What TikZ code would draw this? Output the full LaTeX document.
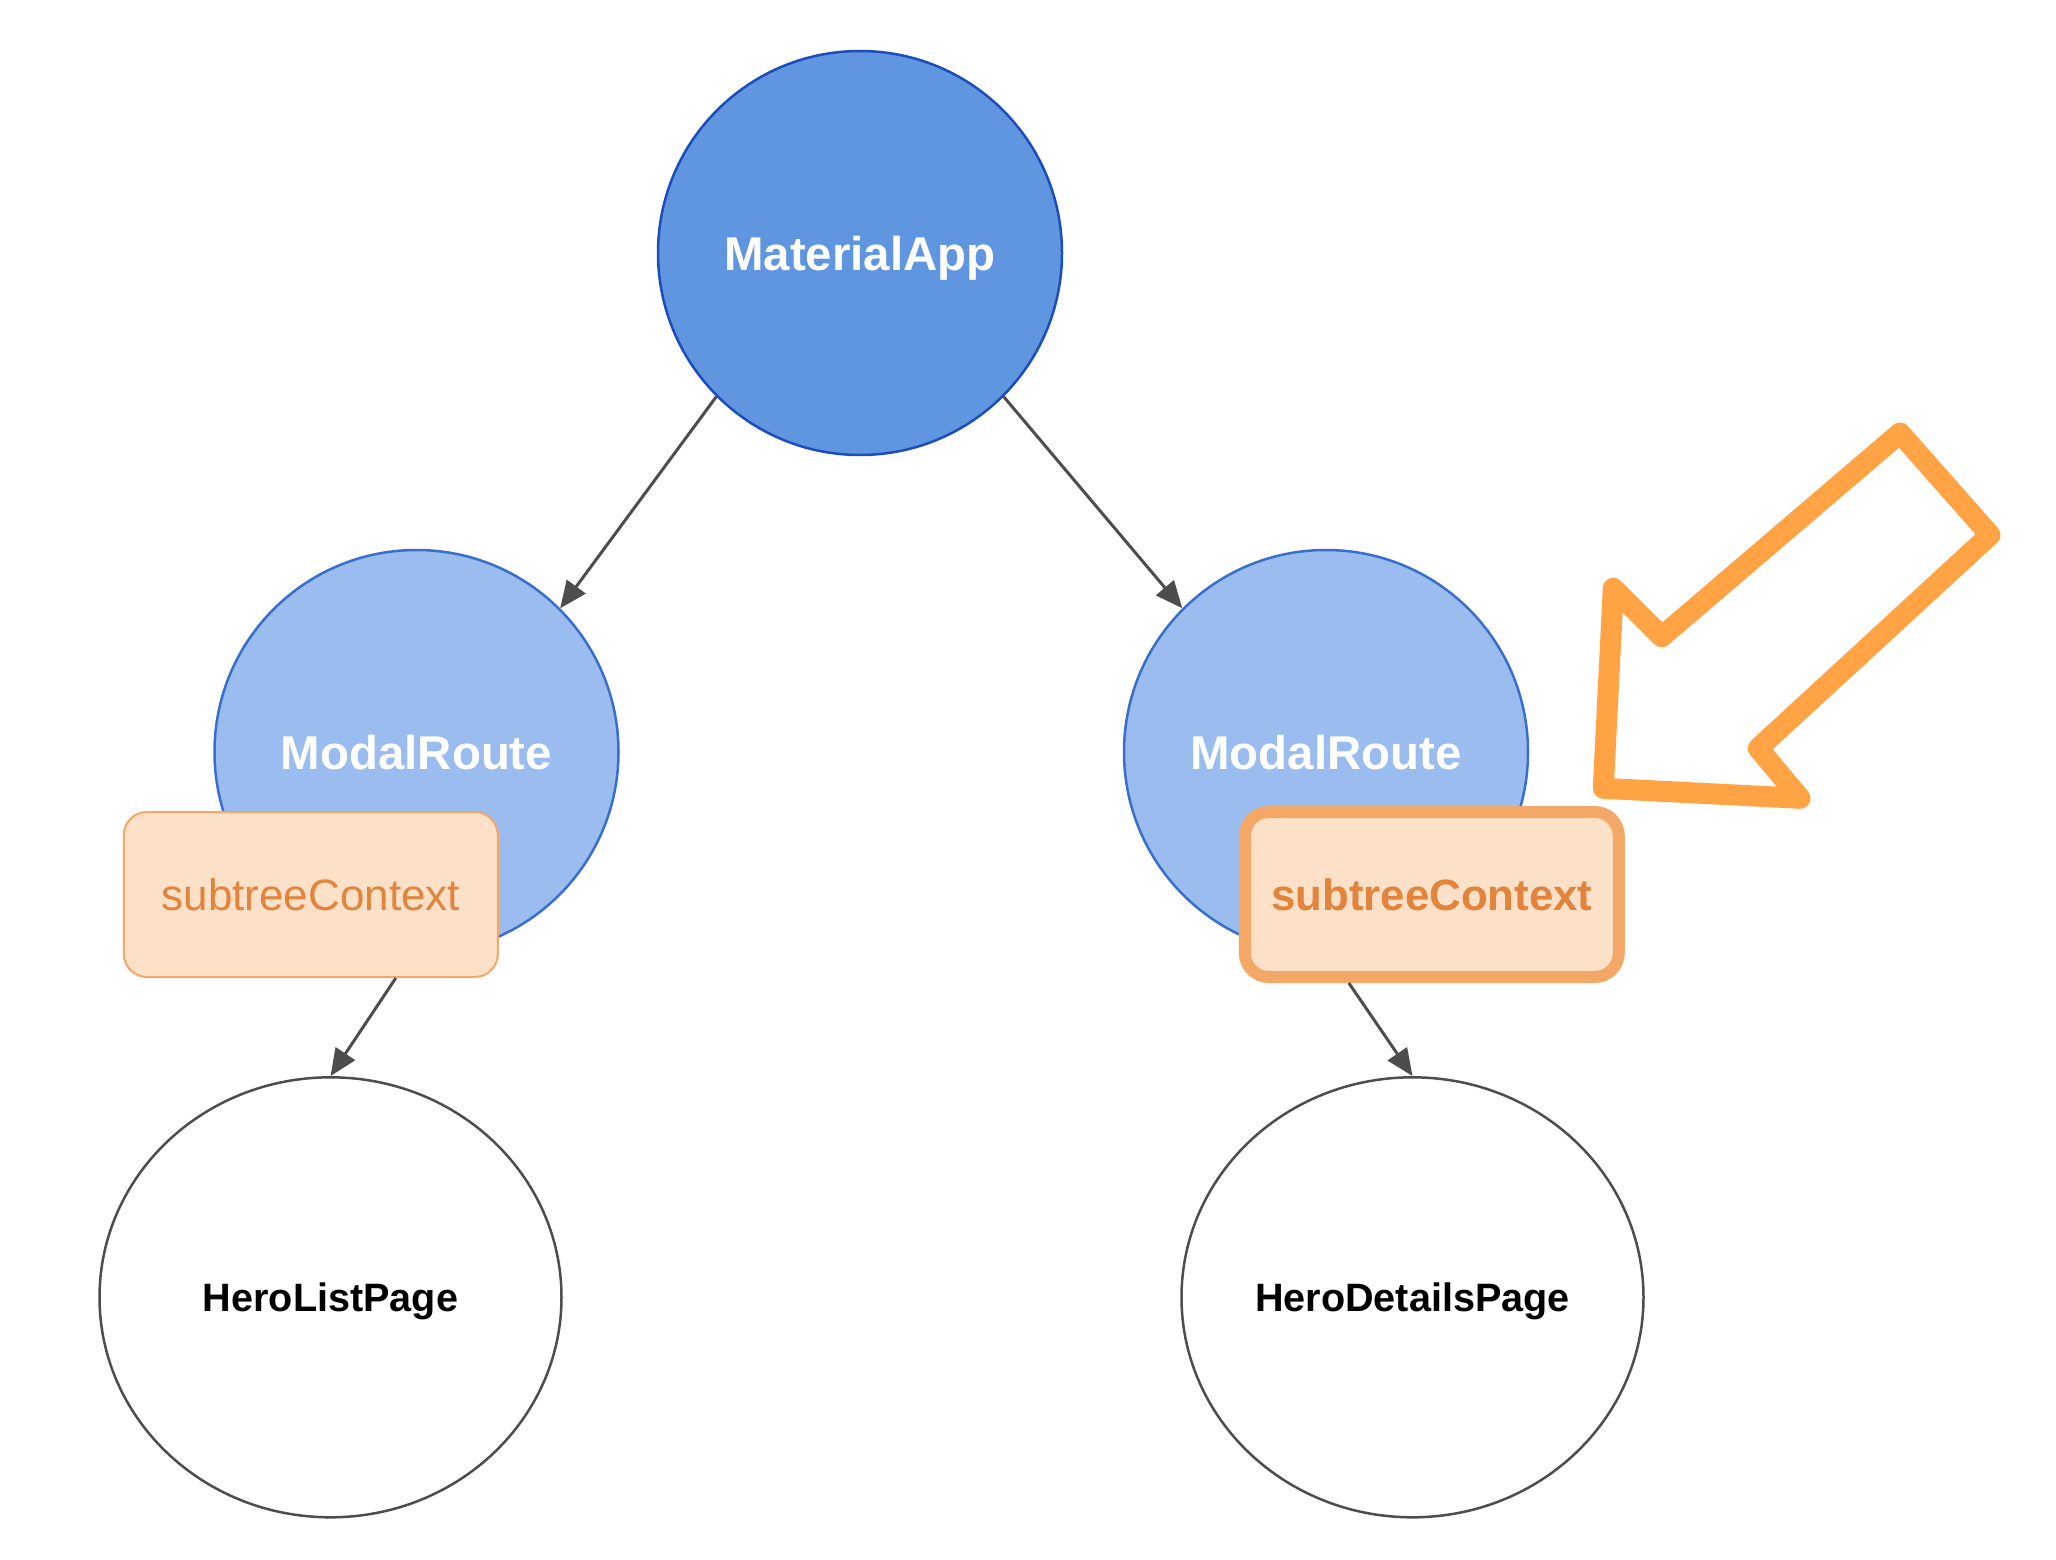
\documentclass[tikz,border=0pt]{standalone}
\usepackage{fontspec}
\setmainfont{Liberation Sans}
\usetikzlibrary{shapes.geometric,arrows.meta,calc}
\definecolor{matfill}{RGB}{96,150,224}
\definecolor{matborder}{RGB}{28,77,190}
\definecolor{modfill}{RGB}{154,188,239}
\definecolor{modborder}{RGB}{58,110,206}
\definecolor{boxfill}{RGB}{252,224,200}
\definecolor{boxborder}{RGB}{244,168,104}
\definecolor{boxtext}{RGB}{227,132,60}
\definecolor{bigarrow}{RGB}{255,163,69}
\definecolor{edgegray}{RGB}{77,77,77}
\begin{document}
\begin{tikzpicture}[x=1pt,y=-1pt,
  matnode/.style={circle, draw=matborder, fill=matfill, line width=2.5pt,
    minimum size=404pt, inner sep=0pt, text=white,
    font=\fontsize{47.4}{50}\selectfont\bfseries, text height=34pt, text depth=0pt},
  modnode/.style={matnode, draw=modborder, fill=modfill},
  ctxbox/.style={rectangle, rounded corners=23pt, draw=boxborder, fill=boxfill,
    line width=2pt, minimum width=374pt, minimum height=165pt, inner sep=0pt,
    text=boxtext, font=\fontsize{44}{48}\selectfont, text height=31.5pt, text depth=0pt},
  ctxboxhi/.style={ctxbox, line width=12pt, rounded corners=24pt,
    font=\fontsize{43.8}{48}\selectfont\bfseries},
  pagenode/.style={ellipse, draw=edgegray, fill=white, line width=2.5pt,
    minimum width=462pt, minimum height=440pt, inner sep=0pt, text=black,
    font=\fontsize{39.6}{44}\selectfont\bfseries, text height=28.4pt, text depth=0pt},
  edge/.style={draw=edgegray, line width=3pt, -{Triangle[length=27pt,width=23pt]}},
  bigarr/.style={draw=bigarrow, line width=21pt, line join=round, line cap=round}
]
\useasboundingbox (0,0) rectangle (2056,1560);

\node[matnode] (ma) at (860,253) {MaterialApp};
\node[modnode] (mr1) at (416.5,752) {ModalRoute};
\node[modnode] (mr2) at (1326,752) {ModalRoute};
\node[ctxbox] (sc1) at (310.8,894.5) {subtreeContext};
\node[ctxboxhi] (sc2) at (1431.8,894.5) {subtreeContext};
\node[pagenode] (hl) at (330.5,1297.3) {HeroListPage};
\node[pagenode] (hd) at (1412.5,1297.3) {HeroDetailsPage};

\draw[edge] (ma.225) -- (mr1.45);
\draw[edge] (ma.315) -- (mr2.135);
\draw[edge] ([xshift=85pt]sc1.south) -- (hl.north);
\draw[edge] ([xshift=-83pt]sc2.south) -- (hd.north);

\coordinate (pA) at (1900,433);
\coordinate (pB) at (1990,535);
\coordinate (pC) at (1758.3,748.3);
\coordinate (pD) at (1800,798.3);
\coordinate (pE) at (1603.3,788.3);
\coordinate (pF) at (1613.3,588.3);
\coordinate (pG) at (1661.7,636.7);
\draw[bigarr] (pA) -- (pB) -- (pC) -- (pD) -- (pE) -- (pF) -- (pG) -- cycle;
\end{tikzpicture}
\end{document}
